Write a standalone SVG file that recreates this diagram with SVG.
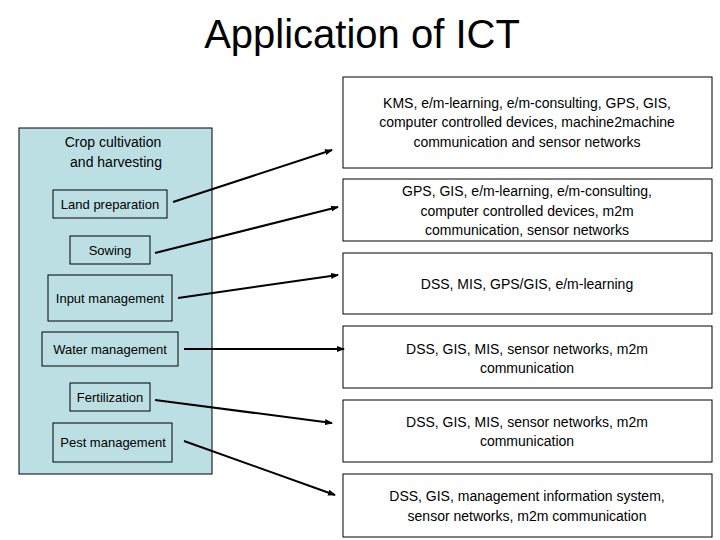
<svg xmlns="http://www.w3.org/2000/svg" width="720" height="540" viewBox="0 0 720 540">
<style>
text{font-family:"Liberation Sans",Arial,sans-serif;font-size:14px;fill:#000;text-anchor:middle}
.n{fill:#bcdfe3;stroke:#000;stroke-width:1}
.r{fill:#fff;stroke:#000;stroke-width:1}
.c line{stroke:#000;stroke-width:2;marker-end:url(#a)}
</style>
<defs><marker id="a" markerWidth="8" markerHeight="8" refX="7" refY="4" orient="auto" markerUnits="userSpaceOnUse"><path d="M0,1 L8,4 L0,7 z" fill="#000"/></marker></defs>
<rect width="720" height="540" fill="#fff"/>
<text x="362" y="48" style="font-size:40px">Application of ICT</text>
<g id="panel"><rect class="n" x="19" y="128" width="193" height="346"/><text x="113" y="147">Crop cultivation</text><text x="116" y="167">and harvesting</text></g>
<g id="land"><rect class="n" x="53" y="190" width="114" height="28"/><text x="110" y="209" style="font-size:13px">Land preparation</text></g>
<g id="sowing"><rect class="n" x="70" y="236" width="80" height="28"/><text x="110" y="255" style="font-size:13px">Sowing</text></g>
<g id="input"><rect class="n" x="48" y="275" width="124" height="46"/><text x="110" y="303" style="font-size:13px">Input management</text></g>
<g id="water"><rect class="n" x="42" y="332" width="136" height="34"/><text x="110" y="354" style="font-size:13px">Water management</text></g>
<g id="fert"><rect class="n" x="70" y="383" width="80" height="28"/><text x="110" y="402" style="font-size:13px">Fertilization</text></g>
<g id="pest"><rect class="n" x="53" y="423" width="119" height="39"/><text x="113" y="447" style="font-size:13px">Pest management</text></g>
<g id="r1"><rect class="r" x="343" y="77" width="369" height="91"/><text x="527" y="108">KMS, e/m-learning, e/m-consulting, GPS, GIS,</text><text x="527" y="127">computer controlled devices, machine2machine</text><text x="527" y="147">communication and sensor networks</text></g>
<g id="r2"><rect class="r" x="343" y="179" width="369" height="62"/><text x="527" y="196">GPS, GIS, e/m-learning, e/m-consulting,</text><text x="527" y="216">computer controlled devices, m2m</text><text x="527" y="235">communication, sensor networks</text></g>
<g id="r3"><rect class="r" x="343" y="253" width="369" height="61"/><text x="527" y="289">DSS, MIS, GPS/GIS, e/m-learning</text></g>
<g id="r4"><rect class="r" x="343" y="326" width="369" height="62"/><text x="527" y="354">DSS, GIS, MIS, sensor networks, m2m</text><text x="527" y="373">communication</text></g>
<g id="r5"><rect class="r" x="343" y="400" width="369" height="62"/><text x="527" y="427">DSS, GIS, MIS, sensor networks, m2m</text><text x="527" y="446">communication</text></g>
<g id="r6"><rect class="r" x="343" y="474" width="369" height="63"/><text x="527" y="501">DSS, GIS, management information system,</text><text x="527" y="521">sensor networks, m2m communication</text></g>
<g class="c" id="connectors">
<line x1="173" y1="202" x2="332" y2="150"/>
<line x1="155" y1="253" x2="338" y2="207"/>
<line x1="178" y1="298" x2="338" y2="275"/>
<line x1="184" y1="349" x2="344" y2="349"/>
<line x1="155" y1="400" x2="332" y2="423"/>
<line x1="184" y1="441" x2="335" y2="495"/>
</g>
</svg>
